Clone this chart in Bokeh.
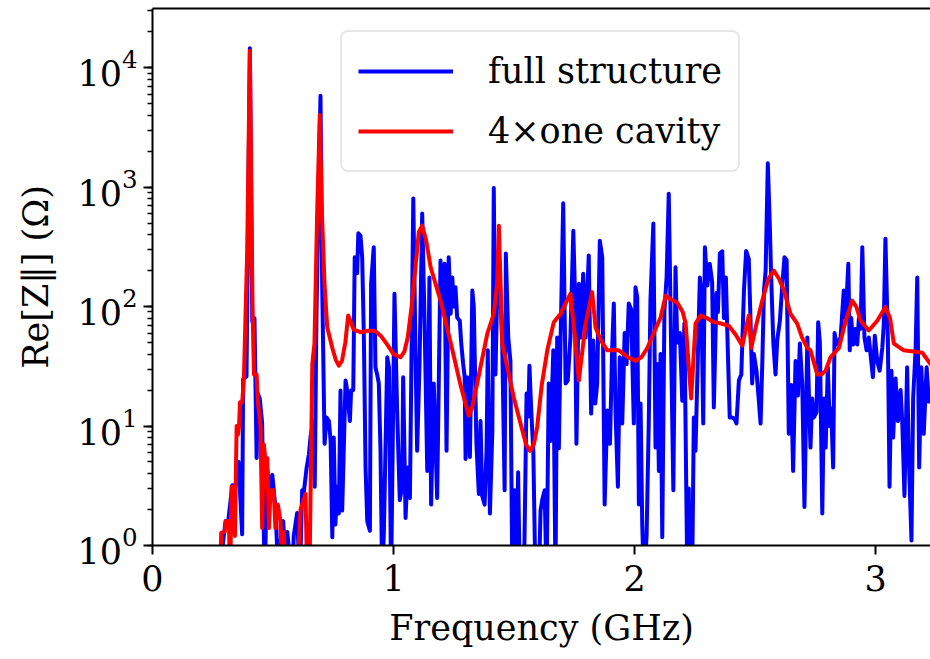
from bokeh.plotting import figure
from bokeh.models import Range1d, LinearAxis, Legend, LegendItem, FixedTicker
from bokeh.embed import file_html
from bokeh.resources import INLINE

# ---- data ----
x_ticks = [0, 1, 2, 3]

freq_full = [
    0.274, 0.303, 0.315, 0.331, 0.344, 0.357, 0.372, 0.376, 0.390, 0.404,
    0.414, 0.423, 0.432, 0.437, 0.445, 0.455, 0.465, 0.476, 0.487, 0.497,
    0.510, 0.520, 0.542, 0.552, 0.559, 0.580, 0.586, 0.600, 0.611, 0.621,
    0.628, 0.639, 0.649, 0.656, 0.667, 0.673, 0.680, 0.690, 0.697, 0.704,
    0.714, 0.722, 0.732, 0.739, 0.746, 0.752, 0.759, 0.766, 0.773, 0.780,
    0.787, 0.801, 0.808, 0.819, 0.824, 0.833, 0.839, 0.849, 0.854, 0.863,
    0.870, 0.877, 0.884, 0.891, 0.902, 0.907, 0.918, 0.925, 0.932, 0.939,
    0.946, 0.953, 0.960, 0.974, 0.981, 0.990, 1.004, 1.015, 1.026, 1.036,
    1.040, 1.050, 1.059, 1.068, 1.082, 1.091, 1.098, 1.108, 1.119, 1.129,
    1.140, 1.149, 1.156, 1.167, 1.181, 1.195, 1.202, 1.212, 1.220, 1.229,
    1.237, 1.244, 1.250, 1.257, 1.264, 1.275, 1.281, 1.289, 1.295, 1.299,
    1.306, 1.317, 1.327, 1.333, 1.344, 1.354, 1.361, 1.368, 1.378, 1.386,
    1.391, 1.400, 1.410, 1.416, 1.423, 1.430, 1.437, 1.444, 1.451, 1.461,
    1.466, 1.476, 1.485, 1.493, 1.502, 1.510, 1.517, 1.524, 1.541, 1.552,
    1.559, 1.564, 1.571, 1.580, 1.589, 1.603, 1.610, 1.617, 1.627, 1.635,
    1.644, 1.651, 1.663, 1.672, 1.679, 1.686, 1.693, 1.704, 1.714, 1.723,
    1.734, 1.746, 1.752, 1.759, 1.769, 1.776, 1.787, 1.797, 1.810, 1.820,
    1.829, 1.837, 1.845, 1.856, 1.866, 1.876, 1.887, 1.898, 1.907, 1.914,
    1.921, 1.931, 1.939, 1.949, 1.959, 1.967, 1.976, 1.986, 1.997, 2.004,
    2.011, 2.018, 2.025, 2.032, 2.039, 2.050, 2.059, 2.066, 2.078, 2.087,
    2.094, 2.101, 2.108, 2.115, 2.124, 2.133, 2.142, 2.152, 2.161, 2.170,
    2.177, 2.188, 2.198, 2.207, 2.219, 2.225, 2.229, 2.239, 2.246, 2.253,
    2.263, 2.271, 2.277, 2.285, 2.292, 2.302, 2.312, 2.322, 2.329, 2.340,
    2.346, 2.354, 2.364, 2.371, 2.379, 2.387, 2.395, 2.405, 2.415, 2.423,
    2.433, 2.443, 2.454, 2.463, 2.474, 2.481, 2.488, 2.495, 2.506, 2.516,
    2.523, 2.530, 2.537, 2.544, 2.553, 2.561, 2.567, 2.576, 2.585, 2.592,
    2.603, 2.613, 2.622, 2.631, 2.640, 2.650, 2.658, 2.668, 2.678, 2.686,
    2.696, 2.705, 2.717, 2.723, 2.730, 2.737, 2.744, 2.755, 2.762, 2.769,
    2.779, 2.786, 2.793, 2.802, 2.810, 2.816, 2.824, 2.830, 2.838, 2.848,
    2.855, 2.868, 2.876, 2.887, 2.893, 2.899, 2.907, 2.917, 2.924, 2.931,
    2.938, 2.945, 2.954, 2.963, 2.972, 2.979, 2.989, 2.997, 3.007, 3.017,
    3.028, 3.034, 3.041, 3.051, 3.058, 3.066, 3.073, 3.083, 3.093, 3.104,
    3.111, 3.120, 3.131, 3.138, 3.149, 3.156, 3.166, 3.173, 3.181, 3.190,
    3.200, 3.212, 3.221, 3.228, 3.249,
]
re_z_full = [
    0.5, 1.6, 1.65, 3.2, 3.1, 5, 1.24, 24.7, 26, 14500,
    75, 80, 5.4, 18.7, 17, 10.5, 0.5, 4.4, 2.8, 3.9,
    2.1, 0.7, 1.6, 0.8, 1.3, 0.5, 1.2, 1.87, 0.5, 2.9,
    2.8, 4.4, 5.8, 8.2, 10.9, 3.1, 75, 1200, 5800, 155,
    7.1, 11.8, 11, 7.5, 1.17, 8, 1.5, 3.1, 1.85, 19.8,
    1.96, 24, 19.8, 11, 19.8, 20, 258, 190, 410, 390,
    258, 55, 4.5, 1.6, 1.33, 155, 314, 31, 27, 22.7,
    6.2, 0.5, 1.3, 37.6, 31, 0.5, 128, 13.5, 2.4, 3.1,
    25.6, 1.7, 4.5, 2.5, 800, 43, 6.2, 33, 600, 72,
    4.2, 175, 2.2, 22.7, 2.5, 243, 92, 228, 6.2, 258,
    87, 175, 100, 145, 81, 76, 49, 33, 26, 5.3,
    25.6, 5.5, 136, 100, 7.1, 2.7, 11, 2.6, 2.2, 6.2,
    43, 1.85, 9, 980, 27, 130, 300, 120, 49, 2.9,
    278, 55, 35, 0.5, 2.9, 0.5, 4.1, 0.5, 0.5, 18.7,
    12, 32, 14, 6.2, 0.5, 0.5, 1.96, 2.4, 2.9, 0.5,
    22.7, 7.5, 43, 0.5, 55, 6.5, 50, 730, 22.7, 24,
    55, 430, 150, 7.1, 155, 55, 188, 55, 267, 12.7,
    52, 15.4, 22.7, 355, 258, 2.2, 13.5, 7.1, 43, 106,
    13.5, 3.1, 37.6, 10.5, 60, 33, 106, 95, 10.5, 145,
    120, 2.2, 15.4, 1.5, 0.5, 1.2, 10.5, 112, 495, 6.6,
    33, 4.2, 40, 1.17, 92, 175, 880, 43, 2.9, 213,
    50, 60, 16.3, 72, 0.5, 3, 0.5, 0.5, 11.8, 6.2,
    40, 175, 130, 10.5, 314, 150, 228, 160, 14.3, 130,
    90, 278, 290, 80, 175, 43, 11.8, 11.8, 11.5, 10.5,
    24, 27, 136, 292, 250, 80, 22.7, 40, 29, 16,
    10.5, 33, 136, 200, 1580, 500, 175, 49, 27, 52,
    76, 150, 258, 245, 8.6, 22, 4.2, 35, 18, 49,
    22, 2.1, 55, 20, 6.6, 17, 11.8, 13, 74, 50,
    1.85, 17, 6.6, 31, 10, 14, 4.5, 60, 48, 52,
    55, 136, 80, 228, 43, 80, 48, 65, 48, 80,
    65, 314, 55, 43, 55, 40, 25.6, 57, 35, 29,
    45, 70, 370, 55, 3.1, 29, 8, 25, 11, 20,
    10.5, 2.6, 31, 5.5, 1.1, 17, 43, 175, 4.5, 31,
    8.6, 31, 16, 20, 15,
]

freq_cavity = [
    0.261, 0.280, 0.285, 0.299, 0.305, 0.317, 0.322, 0.328, 0.337, 0.342,
    0.349, 0.355, 0.359, 0.363, 0.372, 0.379, 0.393, 0.404, 0.415, 0.421,
    0.432, 0.437, 0.448, 0.455, 0.462, 0.469, 0.476, 0.483, 0.490, 0.503,
    0.510, 0.520, 0.531, 0.538, 0.545, 0.552, 0.600, 0.614, 0.621, 0.635,
    0.642, 0.651, 0.663, 0.672, 0.683, 0.694, 0.703, 0.714, 0.725, 0.746,
    0.760, 0.773, 0.786, 0.800, 0.812, 0.822, 0.835, 0.863, 0.900, 0.925,
    0.950, 0.974, 1.000, 1.029, 1.045, 1.059, 1.075, 1.091, 1.105, 1.119,
    1.135, 1.154, 1.195, 1.237, 1.278, 1.300, 1.312, 1.325, 1.347, 1.389,
    1.416, 1.430, 1.437, 1.451, 1.472, 1.500, 1.527, 1.550, 1.566, 1.582,
    1.596, 1.615, 1.638, 1.665, 1.693, 1.734, 1.751, 1.769, 1.797, 1.824,
    1.838, 1.860, 1.887, 1.935, 1.970, 2.004, 2.030, 2.053, 2.080, 2.108,
    2.129, 2.150, 2.177, 2.200, 2.212, 2.235, 2.253, 2.274, 2.300, 2.329,
    2.360, 2.391, 2.420, 2.447, 2.474, 2.484, 2.505, 2.530, 2.555, 2.578,
    2.600, 2.620, 2.647, 2.675, 2.695, 2.717, 2.730, 2.758, 2.775, 2.793,
    2.813, 2.848, 2.876, 2.903, 2.920, 2.938, 2.972, 3.007, 3.041, 3.060,
    3.076, 3.117, 3.194, 3.228, 3.270,
]
re_z_cavity = [
    0.5, 0.5, 1.28, 1.3, 1.6, 1.6, 0.5, 3.1, 3.1, 1.2,
    10, 8.5, 10, 15.8, 15.8, 24, 300, 13800, 100, 27,
    27, 16, 10, 1.4, 7, 5, 5.4, 1.4, 2.9, 2.9,
    1.4, 2.2, 1.6, 0.5, 1.3, 0.5, 0.5, 2.0, 2.2, 2.7,
    0.5, 0.5, 33, 49, 590, 4000, 600, 150, 67, 45,
    36, 32, 35, 50, 84, 75, 64, 61, 63, 62,
    56, 48, 40, 37.6, 42, 55, 100, 213, 420, 475,
    360, 213, 112, 50, 22, 15, 12.2, 14, 22.7, 59,
    87, 155, 475, 49, 31, 17, 10.5, 7, 6.2, 7,
    9.8, 22, 43, 74, 87, 128, 60, 24, 72, 132,
    67, 52, 43, 43, 38, 35, 38, 45, 60, 81,
    123, 115, 108, 90, 72, 17, 72, 84, 80, 74,
    72, 69, 58, 47, 84, 45, 70, 112, 170, 200,
    170, 136, 87, 72, 55, 45, 43, 27, 27, 29,
    37.6, 45, 76, 112, 100, 76, 63, 76, 99, 80,
    49, 43, 41, 33, 30,
]

series_labels = ["full structure", "4×one cavity"]

FONT = "DejaVu Serif"
FS = "35px"

p = figure(width=930, height=659, y_axis_type="log",
           x_range=Range1d(0, 3.228), y_range=Range1d(1, 31200),
           output_backend="svg", toolbar_location=None,
           min_border_left=152, min_border_right=0,
           min_border_top=8, min_border_bottom=114)
p.outline_line_color = None
p.grid.visible = False
p.background_fill_color = "white"
p.border_fill_color = "white"

l_full = p.line(freq_full, re_z_full, line_color="#0000ff", line_width=4,
                line_join="round")
l_cav = p.line(freq_cavity, re_z_cavity, line_color="#ff0000", line_width=4,
               line_join="round")

# axes
p.xaxis.ticker = FixedTicker(ticks=x_ticks)
p.xaxis.axis_label = "Frequency (GHz)"
p.yaxis.axis_label = "Re[Z\u2016] (\u03a9)"
for ax in (p.xaxis[0], p.yaxis[0]):
    ax.axis_line_color = "black"
    ax.axis_line_width = 2
    ax.major_tick_line_color = "black"
    ax.major_tick_line_width = 2
    ax.minor_tick_line_color = "black"
    ax.minor_tick_line_width = 1.5
    ax.major_tick_in = 0
    ax.major_tick_out = 9
    ax.minor_tick_in = 0
    ax.minor_tick_out = 5
    ax.major_label_text_font = FONT
    ax.major_label_text_font_size = FS
    ax.major_label_text_color = "black"
    ax.axis_label_text_font = FONT
    ax.axis_label_text_font_size = FS
    ax.axis_label_text_font_style = "normal"
    ax.axis_label_text_color = "black"
p.xaxis.minor_tick_line_color = None
p.xaxis.major_label_standoff = 10
p.xaxis.axis_label_standoff = 14
p.yaxis.major_label_standoff = 6
p.yaxis.axis_label_standoff = 18

top_axis = LinearAxis(ticker=FixedTicker(ticks=[]), axis_line_color="black",
                      axis_line_width=2, major_tick_line_color=None,
                      minor_tick_line_color=None, major_label_text_font_size="0px",
                      major_label_standoff=0)
p.add_layout(top_axis, "above")

legend = Legend(items=[LegendItem(label=series_labels[0], renderers=[l_full]),
                       LegendItem(label=series_labels[1], renderers=[l_cav])],
                location=(188, 373), margin=0, padding=16, spacing=14,
                glyph_width=95, glyph_height=46, label_standoff=35,
                label_text_font=FONT, label_text_font_size=FS,
                label_text_color="black",
                border_line_color="#d0d0d0", border_line_width=2,
                border_radius=8,
                background_fill_color="white", background_fill_alpha=0.8)
p.add_layout(legend)

open("out.html", "w").write(file_html(p, INLINE))
